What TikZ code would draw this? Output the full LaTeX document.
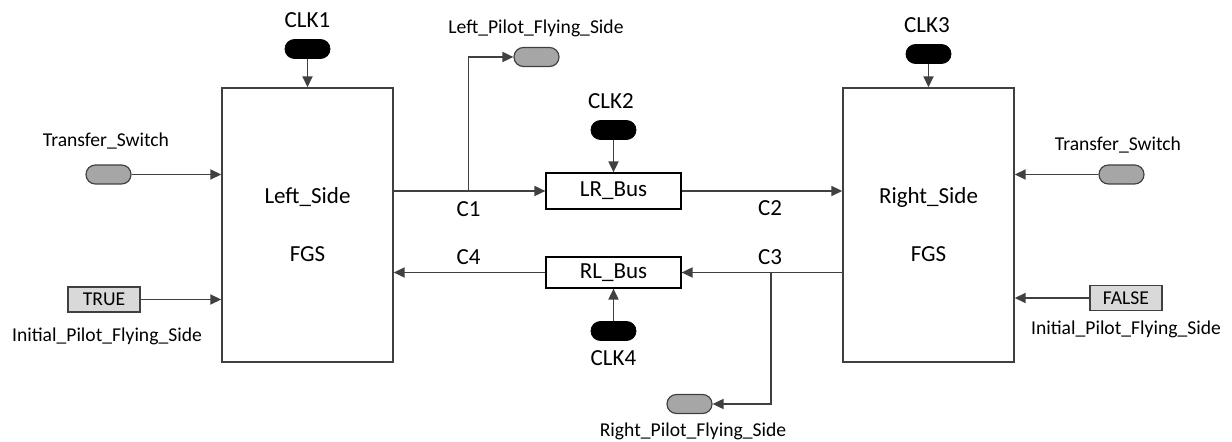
\documentclass[tikz,border=0pt]{standalone}
\usepackage{fontspec}
\setmainfont{Carlito}
\usepackage{tikz}
\usetikzlibrary{arrows.meta}

\definecolor{wirec}{HTML}{404040}
\definecolor{pillgray}{HTML}{A6A6A6}
\definecolor{constgray}{HTML}{D9D9D9}

\tikzset{
  big/.style={font=\fontsize{11.5}{13}\selectfont},
  small/.style={font=\fontsize{9.8}{12}\selectfont},
  wire/.style={draw=wirec,line width=0.9pt},
  arr/.style={wire,-{Triangle[length=5.5pt,width=5pt]}},
  fgsbox/.style={draw=wirec,line width=0.7pt,minimum width=85.5pt,minimum height=137pt,inner sep=0pt},
  busbox/.style={draw=black,line width=0.6pt,minimum width=67.5pt,inner sep=0pt,big},
  clkpill/.style={draw=black,fill=black,rounded corners=4.7pt,minimum width=22.5pt,minimum height=9.5pt,inner sep=0pt},
  inpill/.style={draw=wirec,fill=pillgray,line width=0.6pt,rounded corners=4.7pt,minimum width=22.5pt,minimum height=9.5pt,inner sep=0pt},
  constbox/.style={draw=wirec,fill=constgray,line width=0.6pt,minimum width=36pt,minimum height=12.5pt,inner sep=0pt,small}
}

\begin{document}
\begin{tikzpicture}[x=0.5pt,y=-0.5pt]
    \useasboundingbox (0,0) rectangle (1232,442);
    % the two FGS sides
    \node[fgsbox] (lside) at (307.5,225) {};
    \node[big] (lname) at (307.5,197) {Left\_Side};
    \node[big] (lfgs) at (307.5,254) {FGS};
    \node[fgsbox] (rside) at (928.5,225) {};
    \node[big] (rname) at (928.5,197) {Right\_Side};
    \node[big] (rfgs) at (928.5,254) {FGS};
    % buses
    \node[busbox,minimum height=18pt] (lr) at (613.5,191) {LR\_Bus};
    \node[busbox,minimum height=15.5pt] (rl) at (613.5,272.5) {RL\_Bus};
    % clocks
    \node[clkpill] (clk1) at (307.5,49) {};
    \node[big] (clk1t) at (307.5,20) {CLK1};
    \node[clkpill] (clk2) at (613.5,130) {};
    \node[big] (clk2t) at (611,101) {CLK2};
    \node[clkpill] (clk3) at (928.5,54) {};
    \node[big] (clk3t) at (927,25) {CLK3};
    \node[clkpill] (clk4) at (613.5,331) {};
    \node[big] (clk4t) at (613.5,358) {CLK4};
    % inputs and outputs
    \node[inpill] (lts) at (108.5,174.5) {};
    \node[small] (ltst) at (106,141) {Transfer\_Switch};
    \node[constbox] (ltrue) at (104,299.5) {TRUE};
    \node[small] (linit) at (107,336) {Initial\_Pilot\_Flying\_Side};
    \node[inpill] (rts) at (1121.5,174.5) {};
    \node[small] (rtst) at (1118,145) {Transfer\_Switch};
    \node[constbox] (rfalse) at (1126,298) {FALSE};
    \node[small] (rinit) at (1126,329) {Initial\_Pilot\_Flying\_Side};
    \node[inpill] (lpfs) at (536.5,57) {};
    \node[small] (lpfst) at (536,28) {Left\_Pilot\_Flying\_Side};
    \node[inpill] (rpfs) at (689.5,404) {};
    \node[small] (rpfst) at (693,431) {Right\_Pilot\_Flying\_Side};
    % channel labels
    \node[big] (c1t) at (468.5,209) {C1};
    \node[big] (c2t) at (770,208) {C2};
    \node[big] (c3t) at (770,257) {C3};
    \node[big] (c4t) at (468.5,257) {C4};
    \coordinate (c1) at (468.5,191);
    \coordinate (c3) at (771,272.5);
    % connectors
    \draw[arr] (clk1) -- (lside.north);
    \draw[arr] (clk2) -- (lr.north);
    \draw[arr] (clk3) -- (rside.north);
    \draw[arr] (clk4) -- (rl.south);
    \draw[arr] (lts.east) -- (lts.east -| lside.west);
    \draw[arr] (ltrue.east) -- (ltrue.east -| lside.west);
    \draw[arr] (rts.west) -- (rts.west -| rside.east);
    \draw[arr] (rfalse.west) -- (rfalse.west -| rside.east);
    \draw[arr] (lr.west -| lside.east) -- (lr.west);
    \draw[arr] (c1) |- (lpfs.west);
    \draw[arr] (lr.east) -- (lr.east -| rside.west);
    \draw[arr] (rl.east -| rside.west) -- (rl.east);
    \draw[arr] (c3) |- (rpfs.east);
    \draw[arr] (rl.west) -- (rl.west -| lside.east);
\end{tikzpicture}
\end{document}
